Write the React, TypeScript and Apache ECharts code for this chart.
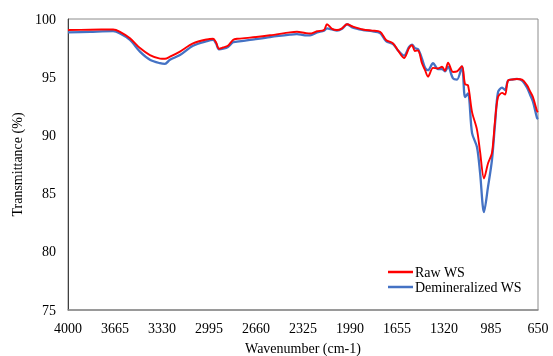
import React, { useEffect, useRef } from "react";
import * as echarts from "echarts";

const wavenumbers = [
  4000, 3843, 3679, 3629, 3558, 3487, 3416, 3344, 3309, 3273, 3202, 3109, 3009,
  2966, 2945, 2924, 2895, 2860, 2824, 2795, 2703, 2560, 2418, 2368, 2311, 2275,
  2225, 2175, 2154, 2118, 2083, 2047, 2011, 1969, 1897, 1833, 1776, 1733, 1683,
  1648, 1605, 1569, 1548, 1527, 1505, 1477, 1455, 1434, 1398, 1363, 1334, 1313,
  1291, 1256, 1227, 1192, 1170, 1149, 1120, 1085, 1063, 1035, 1006, 978, 956,
  935, 906, 885, 864, 835, 800, 764, 728, 707, 686, 657, 650,
];

const rawWS = [
  99.05, 99.08, 99.1, 98.9, 98.34, 97.5, 96.9, 96.6, 96.58, 96.76, 97.2, 97.9,
  98.25, 98.3, 98.0, 97.45, 97.55, 97.7, 98.2, 98.3, 98.4, 98.6, 98.85, 98.9,
  98.8, 98.75, 98.95, 99.05, 99.55, 99.15, 99.05, 99.2, 99.55, 99.35, 99.1, 99.0,
  98.9, 98.2, 97.9, 97.3, 96.65, 97.5, 97.75, 97.25, 97.3, 96.2, 95.6, 95.05,
  95.8, 95.75, 95.9, 95.55, 96.25, 95.45, 95.5, 95.95, 94.4, 94.3, 92.0, 90.5,
  88.6, 86.3, 87.6, 88.5, 91.3, 93.3, 93.65, 93.5, 94.7, 94.8, 94.85, 94.8, 94.3,
  93.8, 93.3, 92.1, 92.0,
];

const demineralizedWS = [
  98.85, 98.9, 98.95, 98.75, 98.2, 97.2, 96.5, 96.2, 96.15, 96.5, 96.9, 97.7,
  98.1, 98.2, 97.9, 97.4, 97.45, 97.6, 98.0, 98.05, 98.2, 98.45, 98.65, 98.7,
  98.6, 98.6, 98.85, 99.0, 99.2, 99.1, 99.0, 99.15, 99.55, 99.25, 99.05, 98.95,
  98.8, 98.1, 97.85, 97.3, 96.85, 97.6, 97.8, 97.5, 97.4, 96.6, 95.8, 95.6, 96.2,
  95.7, 95.7, 95.5, 95.9, 94.9, 94.8, 95.9, 93.3, 93.6, 90.2, 89.0, 86.8, 83.4,
  85.6, 87.9, 91.0, 93.7, 94.1, 93.9, 94.7, 94.8, 94.85, 94.7, 94.1, 93.5, 92.9,
  91.5, 91.4,
];

const xStart = 4000;
const xEnd = 650;
const xInterval = 335;
const yMin = 75;
const yMax = 100;
const yInterval = 5;

const FONT = "Liberation Serif";

export default function App() {
  const ref = useRef<HTMLDivElement>(null);
  useEffect(() => {
    if (!ref.current) return;
    const chart = echarts.init(ref.current, undefined, { renderer: "svg" });
    const toData = (vals: number[]) =>
      wavenumbers.map((w, i) => [xStart - w, vals[i]]);
    chart.setOption({
      animation: false,
      textStyle: { fontFamily: FONT },
      grid: {
        left: 68,
        right: 15,
        top: 19,
        bottom: 46,
        containLabel: false,
        outerBoundsMode: "none",
        show: true,
        borderColor: "#8c8c8c",
        borderWidth: 1,
      },
      xAxis: {
        type: "value",
        min: 0,
        max: xStart - xEnd,
        interval: xInterval,
        name: "Wavenumber (cm-1)",
        nameLocation: "middle",
        nameGap: 31,
        nameTextStyle: { fontFamily: FONT, fontSize: 14, color: "#000" },
        axisLine: { show: true, lineStyle: { color: "#8c8c8c", width: 1.5 } },
        axisTick: { show: false },
        splitLine: { show: false },
        axisLabel: {
          fontFamily: FONT,
          fontSize: 14,
          color: "#000",
          margin: 11,
          formatter: (v: number) => String(xStart - v),
        },
      },
      yAxis: {
        type: "value",
        min: yMin,
        max: yMax,
        interval: yInterval,
        name: "Transmittance (%)",
        nameLocation: "middle",
        nameGap: 40,
        nameTextStyle: { fontFamily: FONT, fontSize: 14, color: "#000" },
        axisLine: { show: true, lineStyle: { color: "#404040", width: 1 } },
        axisTick: { show: false },
        splitLine: { show: false },
        axisLabel: { fontFamily: FONT, fontSize: 14, color: "#000", margin: 12 },
      },
      legend: {
        data: ["Raw WS", "Demineralized WS"],
        orient: "vertical",
        left: 388,
        top: 265,
        padding: 0,
        itemGap: 1,
        icon: "rect",
        itemWidth: 25,
        itemHeight: 2.5,
        textStyle: { fontFamily: FONT, fontSize: 14, color: "#000", padding: [0, 0, 0, -3] },
      },
      series: [
        {
          name: "Demineralized WS",
          type: "line",
          symbol: "none",
          smooth: 0.3,
          data: toData(demineralizedWS),
          lineStyle: { color: "#4472C4", width: 2.3 },
          itemStyle: { color: "#4472C4" },
        },
        {
          name: "Raw WS",
          type: "line",
          symbol: "none",
          smooth: 0.3,
          data: toData(rawWS),
          lineStyle: { color: "#FF0000", width: 1.9 },
          itemStyle: { color: "#FF0000" },
        },
      ],
    });
    return () => chart.dispose();
  }, []);
  return (
    <div
      ref={ref}
      style={{ position: "fixed", left: 0, top: 0, width: 553, height: 356 }}
    />
  );
}
